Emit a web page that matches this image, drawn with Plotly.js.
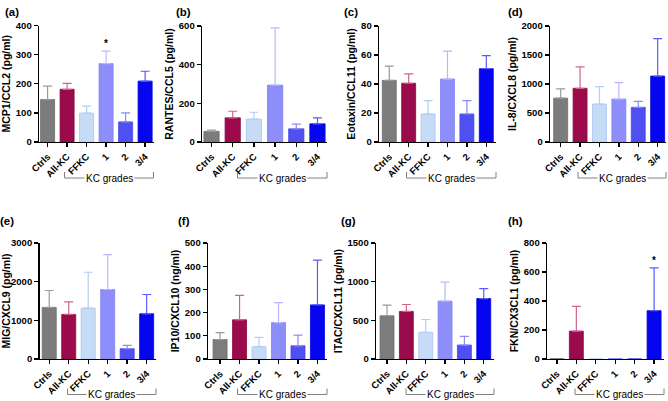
<!DOCTYPE html>
<html>
<head>
<meta charset="utf-8">
<script src="https://cdn.plot.ly/plotly-3.0.1.min.js"></script>
<style>html,body{margin:0;padding:0;background:#fff;}#chart{width:668px;height:401px;}</style>
</head>
<body>
<div id="chart"></div>
<script>
// ---- data (mean and mean+SD) ----
const categories = ['Ctrls', 'All-KC', 'FFKC', '1', '2', '3/4'];

const mcp1Mean     = [146, 181, 99, 269, 69, 209];
const mcp1Upper    = [192, 201, 123, 312, 100, 243];
const rantesMean   = [55, 125, 118, 294, 68, 94];
const rantesUpper  = [62, 159, 154, 590, 92, 125];
const eotaxinMean  = [42.5, 40.5, 19.3, 43.4, 19.3, 50.5];
const eotaxinUpper = [52.3, 47, 28.6, 62.7, 28.6, 59.5];
const il8Mean      = [756, 926, 653, 739, 597, 1136];
const il8Upper     = [915, 1295, 955, 1023, 699, 1784];
const migMean      = [1333, 1152, 1316, 1797, 267, 1169];
const migUpper     = [1771, 1479, 2244, 2700, 353, 1668];
const ip10Mean     = [84, 169, 53, 157, 57, 233];
const ip10Upper    = [114, 274, 93, 243, 103, 426];
const itacMean     = [559, 615, 344, 748, 180, 782];
const itacUpper    = [696, 705, 511, 993, 292, 911];
const fknMean      = [2, 192, 0, 3, 1, 333];
const fknUpper     = [2, 363, 0, 3, 1, 629];

const panelLabels = ['(a)', '(b)', '(c)', '(d)', '(e)', '(f)', '(g)', '(h)'];
const yTitles = ['MCP1/CCL2 (pg/ml)', 'RANTES/CCL5 (pg/ml)', 'Eotaxin/CCL11 (pg/ml)', 'IL-8/CXCL8 (pg/ml)',
                 'MIG/CXCL9 (pg/ml)', 'IP10/CXCL10 (ng/ml)', 'ITAC/CXCL11 (pg/ml)', 'FKN/CX3CL1 (pg/ml)'];
const yMax  = [400, 600, 80, 2000, 3000, 500, 1500, 800];
const yStep = [100, 200, 20, 500, 1000, 100, 500, 200];
const bracketLabel = 'KC grades';
const starPanels = [{panel: 0, cat: '1'}, {panel: 7, cat: '3/4'}];

const means  = [mcp1Mean, rantesMean, eotaxinMean, il8Mean, migMean, ip10Mean, itacMean, fknMean];
const uppers = [mcp1Upper, rantesUpper, eotaxinUpper, il8Upper, migUpper, ip10Upper, itacUpper, fknUpper];

// ---- styling ----
const barColors  = ['#7c7c7c', '#9b0a4b', '#c6dcf6', '#8e8efb', '#4f4ff2', '#0505f0'];
const lineColors = ['#6e6e6e', '#8a0942', '#a9c3ee', '#8080f5', '#4646e6', '#0000dd'];
const errColors  = ['#9a9a9a', '#d0648d', '#b4cdf2', '#b8b8fc', '#8a8af6', '#5a5aff'];

const W = 668, H = 401;
const px = v => v / W;
const py = v => 1 - v / H;

// panel geometry in pixels: [xLeft, xRight, yTop, yBottom]
const geom = [
  [39, 153.5, 25.5, 142], [202, 327, 26, 142], [379, 496, 26, 142], [550, 666, 26, 142],
  [39.5, 156, 243, 359], [208, 327, 243, 359], [376, 494, 243, 359], [547, 664, 243, 359]
];
const ranges = [[-0.44, 5.43], [-0.45, 5.45], [-0.53, 5.5], [-0.55, 5.43],
                [-0.5, 5.48], [-0.62, 5.49], [-0.57, 5.53], [-0.51, 5.51]];
const labelPos = [[12, 12], [183, 12], [351, 12], [515, 12], [7, 221], [184, 221], [348, 221], [515, 221]];
const bracketPx = [[64.5, 153.5, 172, 178], [237.5, 327, 172, 178], [406.5, 496, 172, 178], [578, 666, 172, 178],
                   [67.5, 156, 388.5, 394.5], [237.5, 327, 388.5, 394.5], [406, 494, 388.5, 394.5], [575, 664, 388.5, 394.5]];

const FONT = 'Liberation Sans, Arial, sans-serif';
const traces = [];
const layout = {
  width: W, height: H,
  margin: {l: 0, r: 0, t: 0, b: 0},
  paper_bgcolor: '#ffffff', plot_bgcolor: '#ffffff',
  showlegend: false, barmode: 'overlay',
  font: {family: FONT, color: '#000'},
  annotations: [], shapes: []
};

for (let p = 0; p < 8; p++) {
  const sfx = p === 0 ? '' : String(p + 1);
  const xa = 'x' + sfx, ya = 'y' + sfx;
  for (let i = 0; i < categories.length; i++) {
    traces.push({
      type: 'bar', x: [categories[i]], y: [means[p][i]],
      xaxis: xa, yaxis: ya, width: 0.72,
      marker: {color: barColors[i], line: {color: lineColors[i], width: 0.8}},
      error_y: {type: 'data', symmetric: false, array: [uppers[p][i] - means[p][i]], arrayminus: [0],
                color: errColors[i], thickness: 1.2, width: 4.5, visible: uppers[p][i] > means[p][i]},
      cliponaxis: false, hoverinfo: 'skip'
    });
  }
  const g = geom[p];
  layout['xaxis' + sfx] = {
    domain: [px(g[0]), px(g[1])], anchor: ya, type: 'category',
    categoryorder: 'array', categoryarray: categories, range: ranges[p],
    showline: true, linecolor: '#000', linewidth: 1.4, ticks: 'outside', ticklen: 4, tickwidth: 1.4,
    tickcolor: '#000', tickangle: -45, showgrid: false, zeroline: false, fixedrange: true,
    tickfont: {family: FONT, size: 9.5, color: '#000', weight: 'bold'}
  };
  layout['yaxis' + sfx] = {
    domain: [py(g[3]), py(g[2])], anchor: xa, range: [0, yMax[p]], dtick: yStep[p], tick0: 0,
    showline: true, linecolor: '#000', linewidth: 1.4, ticks: 'outside', ticklen: 4, tickwidth: 1.4,
    tickcolor: '#000', showgrid: false, zeroline: false, fixedrange: true,
    tickfont: {family: FONT, size: 9.5, color: '#000', weight: 'bold'},
    title: {text: yTitles[p], standoff: 3, font: {family: FONT, size: 10.5, color: '#000', weight: 'bold'}}
  };
  layout.annotations.push({
    xref: 'paper', yref: 'paper', x: px(labelPos[p][0]), y: py(labelPos[p][1]),
    text: panelLabels[p], showarrow: false, xanchor: 'center', yanchor: 'middle',
    font: {family: FONT, size: 11.5, color: '#000', weight: 'bold'}
  });
  const b = bracketPx[p];
  layout.shapes.push({
    type: 'path', xref: 'paper', yref: 'paper',
    path: `M ${px(b[0])},${py(b[2])} L ${px(b[0])},${py(b[3])} L ${px(b[1])},${py(b[3])} L ${px(b[1])},${py(b[2])}`,
    line: {color: '#808080', width: 1}
  });
  layout.annotations.push({
    xref: 'paper', yref: 'paper', x: px((b[0] + b[1]) / 2), y: py(b[3]),
    text: bracketLabel, showarrow: false, xanchor: 'center', yanchor: 'middle',
    bgcolor: '#ffffff', borderpad: 1,
    font: {family: FONT, size: 10, color: '#000'}
  });
}

starPanels.forEach(s => {
  const i = categories.indexOf(s.cat);
  const sfx = s.panel === 0 ? '' : String(s.panel + 1);
  layout.annotations.push({
    xref: 'x' + sfx, yref: 'y' + sfx, x: i, y: uppers[s.panel][i],
    text: '*', showarrow: false, yanchor: 'bottom', yshift: 0,
    font: {family: FONT, size: 10, color: '#000', weight: 'bold'}
  });
});

Plotly.newPlot('chart', traces, layout, {displayModeBar: false, staticPlot: true});
</script>
</body>
</html>
